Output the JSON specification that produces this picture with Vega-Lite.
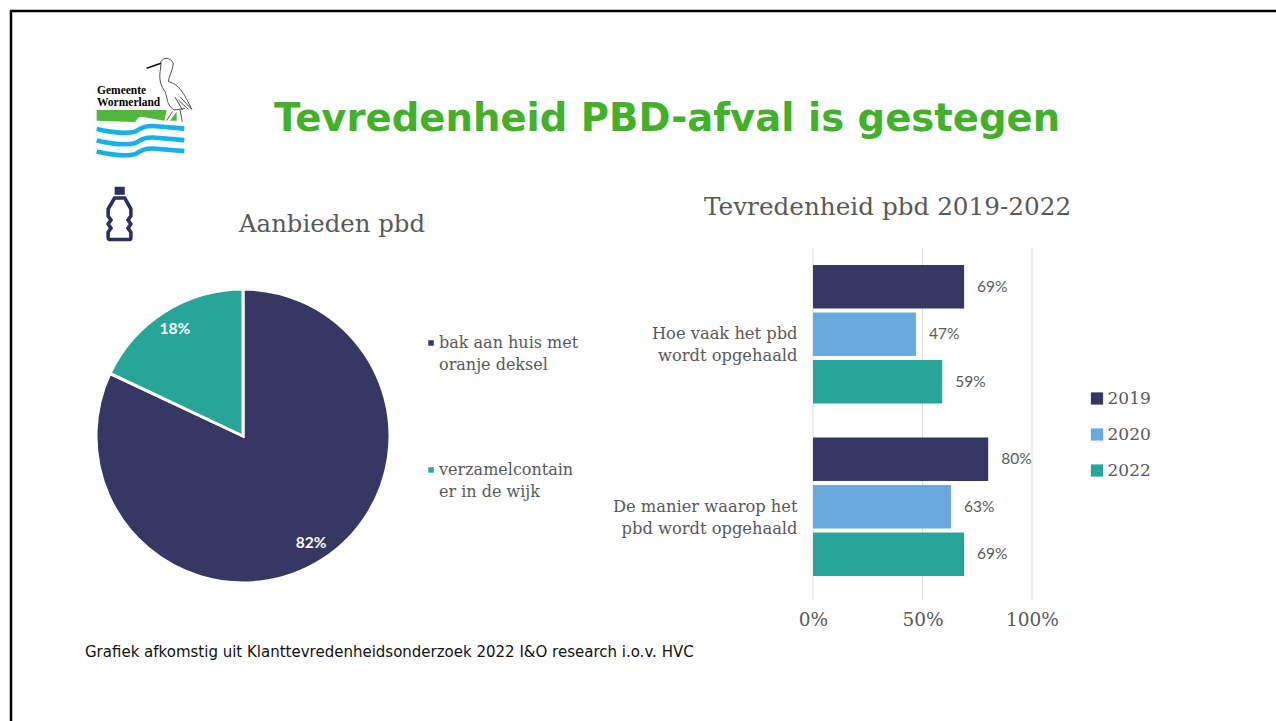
{
"$schema":"https://vega.github.io/schema/vega-lite/v6.json",
"width":1276,"height":721,"padding":0,"autosize":{"type":"none"},
"background":"white",
"config":{"view":{"stroke":null}},
"resolve":{"scale":{"x":"independent","y":"independent","color":"independent","theta":"independent","yOffset":"independent"},"axis":{"x":"independent","y":"independent"},"legend":{"color":"independent"}},
"layer":[
{"data":{"values":[{"edge":"left"}]},"mark":{"type":"rule","color":"#000000","strokeWidth":2.5},"encoding":{"x":{"value":11},"y":{"value":10},"y2":{"value":721}}},
{"data":{"values":[{"edge":"top"}]},"mark":{"type":"rule","color":"#000000","strokeWidth":2.5},"encoding":{"x":{"value":10},"x2":{"value":1276},"y":{"value":11}}},
{"data":{"values":[{"part":"land"}]},"mark":{"type":"point","filled":true,"size":10000,"color":"#4fb83a","opacity":1,"strokeWidth":0,"shape":"M-0.967,0.06L0.433,0.06L0.387,0.273L-0.067,0.193Q-0.15,0.2 -0.2,0.3L-0.967,0.273ZM0.5,0.273L0.633,0.093L0.633,0.273Z"},"encoding":{"x":{"value":145},"y":{"value":107}}},
{"data":{"values":[{"part":"water"}]},"mark":{"type":"point","filled":false,"size":10000,"color":"#17b0ec","opacity":1,"strokeWidth":4.6,"shape":"M-0.967,0.44C-0.667,0.507 -0.367,0.54 -0.2,0.493C-0.067,0.427 -0.033,0.373 0.167,0.38L0.787,0.433M-0.967,0.67C-0.667,0.737 -0.367,0.77 -0.2,0.723C-0.067,0.657 -0.033,0.603 0.167,0.61L0.787,0.663M-0.967,0.89C-0.667,0.957 -0.367,0.99 -0.2,0.943C-0.067,0.877 -0.033,0.823 0.167,0.83L0.787,0.883"},"encoding":{"x":{"value":145},"y":{"value":107}}},
{"data":{"values":[{"part":"stork"}]},"mark":{"type":"point","filled":false,"size":10000,"color":"#222222","opacity":1,"strokeWidth":0.8,"shape":"M0.32,-0.907C0.367,-1 0.5,-1 0.567,-0.873C0.56,-0.74 0.47,-0.6 0.467,-0.507C0.6,-0.47 0.733,-0.407 0.933,0.047M0.32,-0.907C0.33,-0.75 0.22,-0.55 0.4,-0.307C0.44,-0.2 0.45,-0.1 0.467,-0.073C0.5,0 0.55,0.05 0.6,0.06M0.7,-0.207L0.933,0.047M0.667,-0.14L0.867,0.047M0.6,-0.2L0.75,0.06M0.547,0.093L0.433,0.273M0.7,0.06L0.747,0.293M0.6,0.06L0.8,0.03"},"encoding":{"x":{"value":145},"y":{"value":107}}},
{"data":{"values":[{"part":"beak"}]},"mark":{"type":"point","filled":false,"size":10000,"color":"#111111","opacity":1,"strokeWidth":1.6,"shape":"M0.033,-0.773L0.32,-0.873"},"encoding":{"x":{"value":145},"y":{"value":107}}},
{"data":{"values":[{"t":"Gemeente"}]},"mark":{"type":"text","font":"Liberation Serif","fontWeight":"bold","fontSize":11.5,"align":"left","baseline":"alphabetic","color":"#000000"},"encoding":{"text":{"field":"t"},"x":{"value":97},"y":{"value":94}}},
{"data":{"values":[{"t":"Wormerland"}]},"mark":{"type":"text","font":"Liberation Serif","fontWeight":"bold","fontSize":11.5,"align":"left","baseline":"alphabetic","color":"#000000"},"encoding":{"text":{"field":"t"},"x":{"value":97},"y":{"value":106}}},
{"data":{"values":[{"t":"Tevredenheid PBD-afval is gestegen"}]},"mark":{"type":"text","font":"DejaVu Sans","fontWeight":"bold","fontSize":38.6,"align":"left","baseline":"alphabetic","color":"#43b02a"},"encoding":{"text":{"field":"t"},"x":{"value":274},"y":{"value":131}}},
{"data":{"values":[{"part":"bottle"}]},"mark":{"type":"point","filled":false,"size":3720,"color":"#2d2f5e","opacity":1,"strokeWidth":3.6,"shape":"M-0.16,-0.72L0.173,-0.72L0.373,-0.36L0.373,-0.133L0.28,0L0.373,0.133L0.28,0.267L0.373,0.4L0.373,0.58Q0.373,0.64 0.3,0.64L-0.3,0.64Q-0.373,0.64 -0.373,0.58L-0.373,0.4L-0.28,0.267L-0.373,0.133L-0.28,0L-0.373,-0.133L-0.373,-0.36Z"},"encoding":{"x":{"value":119.5},"y":{"value":220}}},
{"data":{"values":[{"part":"cap"}]},"mark":{"type":"point","filled":true,"size":3720,"color":"#2d2f5e","opacity":1,"strokeWidth":0,"shape":"M-0.16,-1.09L0.173,-1.09L0.173,-0.827L-0.16,-0.827Z"},"encoding":{"x":{"value":119.5},"y":{"value":220}}},
{"data":{"values":[{"t":"Aanbieden pbd"}]},"mark":{"type":"text","font":"DejaVu Serif","fontSize":24.4,"align":"left","baseline":"alphabetic","color":"#595959"},"encoding":{"text":{"field":"t"},"x":{"value":239},"y":{"value":232}}},
{"data":{"values":[{"t":"Tevredenheid pbd 2019-2022"}]},"mark":{"type":"text","font":"DejaVu Serif","fontSize":24.7,"align":"left","baseline":"alphabetic","color":"#595959"},"encoding":{"text":{"field":"t"},"x":{"value":704},"y":{"value":215}}},
{"data":{"values":[{"t":"Grafiek afkomstig uit Klanttevredenheidsonderzoek 2022 I&O research i.o.v. HVC"}]},"mark":{"type":"text","font":"DejaVu Sans","fontSize":15,"align":"left","baseline":"alphabetic","color":"#111111"},"encoding":{"text":{"field":"t"},"x":{"value":85},"y":{"value":657}}},
{"data":{"values":[{"manner":"bak aan huis met oranje deksel","share":0.82},{"manner":"verzamelcontainer in de wijk","share":0.18}]},
 "encoding":{"theta":{"field":"share","type":"quantitative","stack":true,"scale":{"domain":[0,1]}},"order":{"field":"share","type":"quantitative","sort":"descending"},"x":{"value":243},"y":{"value":436}},
 "layer":[
 {"mark":{"type":"arc","outerRadius":147,"stroke":"white","strokeWidth":3},
  "encoding":{"color":{"field":"manner","type":"nominal","scale":{"domain":["bak aan huis met oranje deksel","verzamelcontainer in de wijk"],"range":["#363763","#26a598"]},
   "legend":{"title":null,"orient":"none","legendX":423,"legendY":335,"symbolType":"square","symbolSize":30,"symbolStrokeWidth":0,"labelFont":"DejaVu Serif","labelFontSize":16,"labelColor":"#595959","labelLimit":300,"labelOffset":0,"rowPadding":89,
   "encoding":{"labels":{"lineHeight":{"value":22}}},
   "labelExpr":"datum.value=='verzamelcontainer in de wijk'?['verzamelcontain','er in de wijk']:['bak aan huis met','oranje deksel']"}}}},
 {"mark":{"type":"text","radius":127,"font":"Lato","fontWeight":"bold","fontSize":15.5,"color":"white"},"encoding":{"text":{"field":"share","type":"quantitative","format":".0%"}}}
 ]},
{"data":{"values":[{"v":0},{"v":0.5},{"v":1}]},"mark":{"type":"rule","color":"#dcdcdc","strokeWidth":1},"encoding":{"x":{"field":"v","type":"quantitative","scale":{"domain":[0,1],"range":[813,1032],"nice":false},"axis":null},"y":{"value":248},"y2":{"value":600}}},
{"data":{"values":[{"q":"Hoe vaak het pbd wordt opgehaald","year":"2019","v":0.69},{"q":"Hoe vaak het pbd wordt opgehaald","year":"2020","v":0.47},{"q":"Hoe vaak het pbd wordt opgehaald","year":"2022","v":0.59},{"q":"De manier waarop het pbd wordt opgehaald","year":"2019","v":0.80},{"q":"De manier waarop het pbd wordt opgehaald","year":"2020","v":0.63},{"q":"De manier waarop het pbd wordt opgehaald","year":"2022","v":0.69}]},
 "encoding":{"x":{"field":"v","type":"quantitative","title":null,"scale":{"domain":[0,1],"range":[813,1032],"nice":false},
   "axis":{"orient":"bottom","offset":-111,"values":[0,0.5,1],"format":".0%","domain":false,"ticks":false,"grid":false,"labelPadding":0,"labelFont":"DejaVu Serif","labelFontSize":18.5,"labelColor":"#595959","labelBaseline":"top","labelFlush":false}},
  "y":{"field":"q","type":"nominal","title":null,"sort":["Hoe vaak het pbd wordt opgehaald","De manier waarop het pbd wordt opgehaald"],"scale":{"range":[265,576],"paddingInner":0.197,"paddingOuter":0},
   "axis":{"orient":"left","offset":-797,"domain":false,"ticks":false,"grid":false,"labelPadding":0,"labelAlign":"right","labelBaseline":"middle","labelFont":"DejaVu Serif","labelFontSize":16.3,"labelColor":"#595959","labelLineHeight":22,"labelLimit":300,
   "labelExpr":"datum.value=='Hoe vaak het pbd wordt opgehaald'?['Hoe vaak het pbd','wordt opgehaald']:['De manier waarop het','pbd wordt opgehaald']"}},
  "yOffset":{"field":"year","type":"nominal","scale":{"paddingInner":0.085,"paddingOuter":0}}},
 "layer":[
 {"mark":{"type":"bar"},"encoding":{"color":{"field":"year","type":"nominal","scale":{"domain":["2019","2020","2022"],"range":["#363763","#6aa9df","#26a598"]},
   "legend":{"title":null,"orient":"none","legendX":1088.5,"legendY":390,"symbolType":"square","symbolSize":150,"symbolStrokeWidth":0,"labelFont":"DejaVu Serif","labelFontSize":17,"labelColor":"#595959","labelOffset":2,"rowPadding":18}}}},
 {"mark":{"type":"text","align":"left","dx":13,"font":"Lato","fontSize":15.5,"color":"#595959"},"encoding":{"text":{"field":"v","type":"quantitative","format":".0%"}}}
 ]}
]
}
